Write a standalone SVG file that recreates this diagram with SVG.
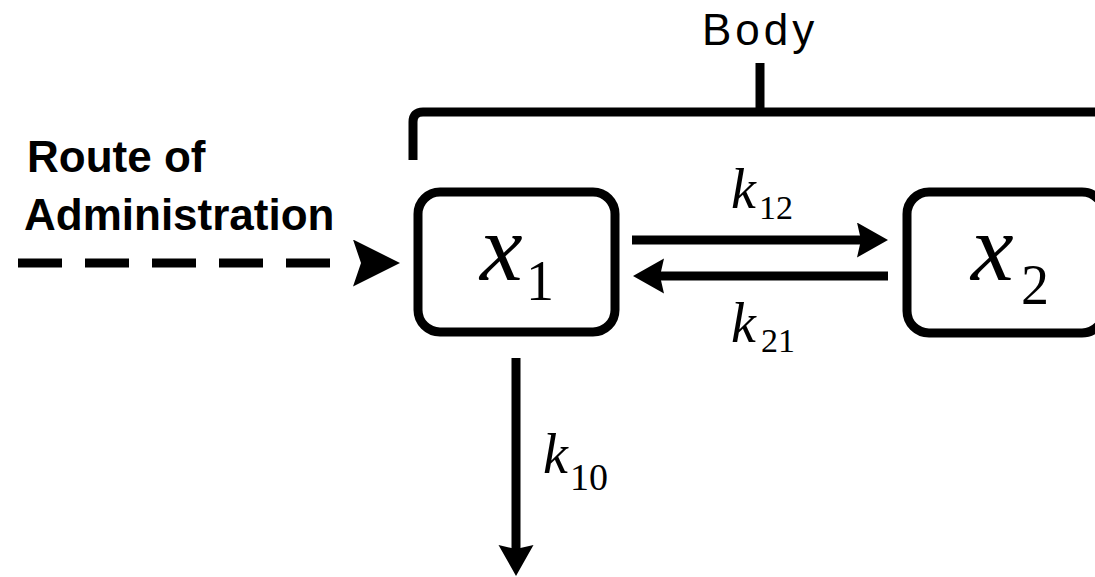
<svg xmlns="http://www.w3.org/2000/svg" width="1095" height="577" viewBox="0 0 1095 577">
<style>
.line{fill:none;stroke:#000;stroke-width:9}
.box{fill:#fff;stroke:#000;stroke-width:9}
.lbl{font-family:"Liberation Sans",Arial,sans-serif;font-size:44px;fill:#000}
.var{font-family:"Liberation Serif","Times New Roman",serif;font-style:italic;fill:#000}
.sub{font-family:"Liberation Serif","Times New Roman",serif;fill:#000}
</style>
<defs>
<marker id="head" markerUnits="userSpaceOnUse" markerWidth="32" markerHeight="36" refX="4" refY="17.5" orient="auto">
<path d="M0,0 L31,17.5 L0,35 L4,17.5 Z" fill="#000"/>
</marker>
<marker id="bighead" markerUnits="userSpaceOnUse" markerWidth="48" markerHeight="48" refX="0" refY="23.5" orient="auto">
<path d="M0,0 L47,23.5 L0,47 L8,23.5 Z" fill="#000"/>
</marker>
</defs>
<rect width="1095" height="577" fill="#fff"/>
<g id="body">
<path class="line" d="M413,160 V122 Q413,112 423,112 H1100" stroke-width="8"/>
<path class="line" d="M760,112 V63" stroke-width="8"/>
<text class="lbl" x="702" y="45" letter-spacing="4">Body</text>
</g>
<g id="route">
<text class="lbl" x="27" y="172" font-weight="bold">Route of</text>
<text class="lbl" x="24" y="230" font-weight="bold">Administration</text>
</g>
<g id="connectors">
<path class="line" d="M18,263 H353" stroke-width="10" stroke-dasharray="44 23" marker-end="url(#bighead)"/>
<path class="line" d="M632,240 H861" marker-end="url(#head)"/>
<path class="line" d="M888,276 H660" marker-end="url(#head)"/>
<path class="line" d="M516,358 V549" marker-end="url(#head)"/>
<text class="var" x="731" y="208" font-size="56">k</text>
<text class="sub" x="759" y="219" font-size="34">12</text>
<text class="var" x="731" y="342" font-size="56">k</text>
<text class="sub" x="761" y="352" font-size="34">21</text>
<text class="var" x="543" y="473" font-size="56">k</text>
<text class="sub" x="570" y="490" font-size="38">10</text>
</g>
<g id="x1">
<rect class="box" x="418" y="192" width="197" height="140" rx="22"/>
<text class="var" x="480" y="280" font-size="96">x</text>
<text class="sub" x="526" y="300" font-size="56">1</text>
</g>
<g id="x2">
<rect class="box" x="907" y="192" width="197" height="141" rx="22"/>
<text class="var" x="971" y="280" font-size="96">x</text>
<text class="sub" x="1021" y="304" font-size="56">2</text>
</g>
</svg>
